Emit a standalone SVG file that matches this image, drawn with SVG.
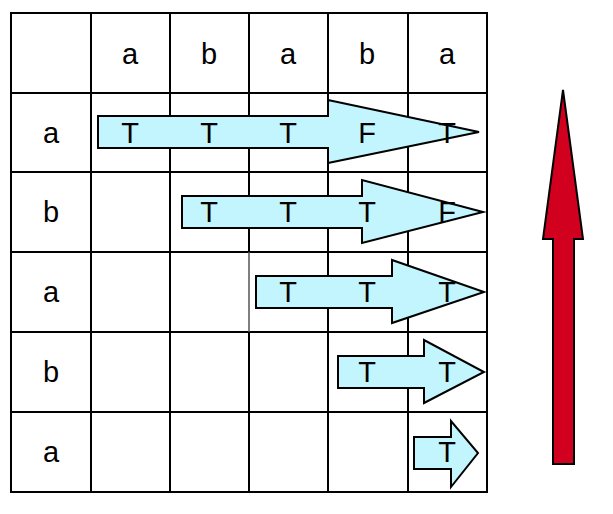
<svg xmlns="http://www.w3.org/2000/svg" width="613" height="514" viewBox="0 0 613 514">
<style>
.g{stroke:#000;stroke-width:2;fill:none}
.ar{fill:#C2F5FD;stroke:#000;stroke-width:2;stroke-linejoin:miter}
.red{fill:#D0001E;stroke:#000;stroke-width:2}
text{font-family:"Liberation Sans",Arial,sans-serif;font-size:29px;fill:#000;text-anchor:middle}
</style>
<rect width="613" height="514" fill="#fff"/>
<g id="grid">
<rect class="g" x="11" y="13" width="476" height="479"/>
<path class="g" d="M91 13V492M170 13V492M249 13V252M249 332V492M328 13V492M408 13V492M11 93H487M11 172H487M11 252H487M11 332H487M11 412H487"/>
<path d="M249 252V332" stroke="#555" stroke-width="1.5"/>
</g>
<g id="headers">
<text x="130" y="64">a</text><text x="209" y="64">b</text><text x="288" y="64">a</text><text x="367" y="64">b</text><text x="447" y="64">a</text>
<text x="51" y="143">a</text><text x="51" y="222">b</text><text x="51" y="302">a</text><text x="51" y="382">b</text><text x="51" y="462">a</text>
</g>
<g id="connectors">
<polygon id="arrow1" class="ar" points="98,116 328,116 328,100 479,132 328,163 328,148 98,148"/>
<polygon id="arrow2" class="ar" points="182,196 362,196 362,180 483,212 362,243 362,228 182,228"/>
<polygon id="arrow3" class="ar" points="256,276 392,276 392,260 484,292 392,323 392,308 256,308"/>
<polygon id="arrow4" class="ar" points="338,356 424,356 424,340 484,372 424,403 424,388 338,388"/>
<polygon id="arrow5" class="ar" points="414,437 451,437 451,421 478,453 451,487 451,469 414,469"/>
<polygon id="upArrow" class="red" points="553,464 553,239 543,239 563,90 583,239 574,239 574,464"/>
</g>
<g id="values">
<text x="130" y="143">T</text><text x="209" y="143">T</text><text x="288" y="143">T</text><text x="367" y="143">F</text><text x="447" y="143">T</text>
<text x="209" y="222">T</text><text x="288" y="222">T</text><text x="367" y="222">T</text><text x="447" y="222">F</text>
<text x="288" y="302">T</text><text x="367" y="302">T</text><text x="447" y="302">T</text>
<text x="367" y="382">T</text><text x="447" y="382">T</text>
<text x="447" y="462">T</text>
</g>
</svg>
